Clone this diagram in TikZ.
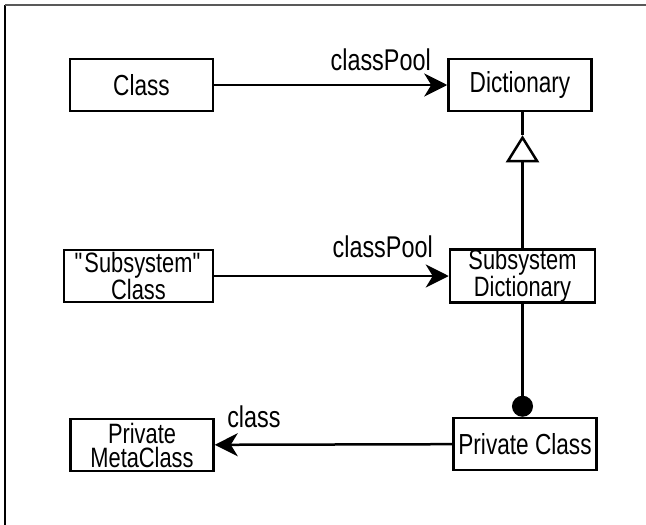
\documentclass[tikz,border=0pt]{standalone}
\usepackage{fontspec}
\setmainfont{Liberation Sans}[FakeStretch=0.78]
\usetikzlibrary{arrows.meta,calc}

\begin{document}
\begin{tikzpicture}[x=1pt, y=-1pt, line width=2.5pt,
  every node/.style={font=\fontsize{29}{24}\selectfont},
  classbox/.style={rectangle, draw, inner sep=0pt, minimum width=143pt, minimum height=52pt, align=center},
  twoline/.style={classbox, font=\fontsize{28}{24}\selectfont},
  lbl/.style={inner sep=0pt, font=\fontsize{30}{24}\selectfont},
  assoc/.style={-{Stealth[length=23pt, width=23pt, inset=7pt]}},
  inherit/.style={-{Triangle[open, length=27pt, width=33pt]}},
  owner/.style={-{Circle[length=21pt]}}]

\useasboundingbox (0,0) rectangle (646,525);

% Frame
\draw[line width=1.7pt] (5,525) -- (5,5);
\draw[line width=1.7pt, gray!70!black] (5,5) -- (646,5);

% Top row
\node[classbox] at (141.5,85) (cls) {Class};
\node[classbox] at (520,85) (dict) {Dictionary};

% Middle row
\node[twoline, minimum width=149pt] at (138.5,276) (subcls) {\textquotedbl Subsystem\textquotedbl\\Class};
\node[twoline, minimum width=145pt] at (522.5,276) (subdict) {Subsystem\\Dictionary};

% Bottom row
\node[twoline] at (142,445) (pmeta) {Private\\MetaClass};
\node[classbox] at (525,444) (pcls) {Private Class};

% Labels
\node[lbl, anchor=base east] at (432,70) (pool1) {classPool};
\node[lbl, anchor=base east] at (434,257) (pool2) {classPool};
\node[lbl, anchor=base west] at (226,427) (meta) {class};

% Connections
\draw[assoc] (cls) -- (dict);
\draw[assoc] (subcls) -- (subdict);
\draw[assoc] (pcls) -- (pmeta);

\coordinate (gen) at ($(subdict.north |- dict.south)+(0,23)$);
\draw[inherit] (subdict.north) -- (gen);
\draw (gen) -- (gen |- dict.south);
\draw[owner] (subdict.south) -- (subdict.south |- pcls.north);

\end{tikzpicture}
\end{document}
